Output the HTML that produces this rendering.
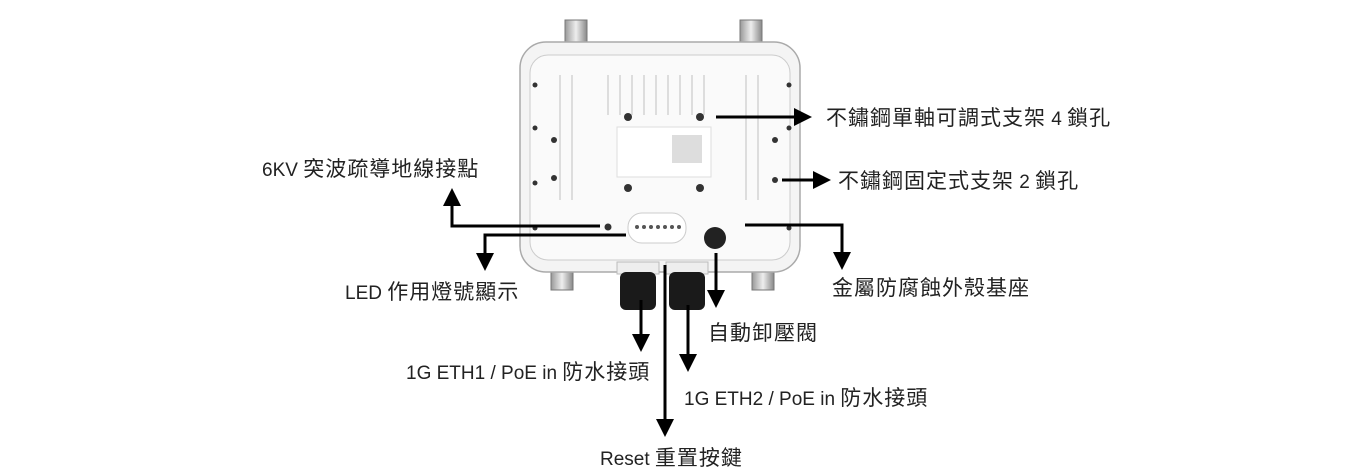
<!DOCTYPE html>
<html><head><meta charset="utf-8"><style>
html,body{margin:0;padding:0;background:#fff;}
svg{display:block;}
text{font-family:"Liberation Sans","Noto Sans CJK TC",sans-serif;font-size:21px;letter-spacing:1px;fill:#222;}
tspan.l{font-size:19px;letter-spacing:0;}
</style></head><body>
<svg width="1364" height="476" viewBox="0 0 1364 476" xmlns="http://www.w3.org/2000/svg">
<defs>
<marker id="a" markerWidth="6" markerHeight="6" refX="3" refY="3" orient="auto" markerUnits="strokeWidth">
<path d="M0,0 L6,3 L0,6 z" fill="#000"/></marker>
<linearGradient id="cn" x1="0" x2="1"><stop offset="0" stop-color="#999"/><stop offset=".5" stop-color="#eee"/><stop offset="1" stop-color="#888"/></linearGradient>
</defs>
<rect x="565" y="20" width="22" height="28" fill="url(#cn)" stroke="#777"/>
<rect x="740" y="20" width="22" height="28" fill="url(#cn)" stroke="#777"/>
<rect x="551" y="262" width="22" height="28" fill="url(#cn)" stroke="#777"/>
<rect x="752" y="262" width="22" height="28" fill="url(#cn)" stroke="#777"/>
<rect x="520" y="42" width="280" height="230" rx="26" fill="#f4f4f4" stroke="#aaa" stroke-width="1.5"/>
<rect x="530" y="55" width="260" height="205" rx="18" fill="#fafafa" stroke="#ccc"/>
<g stroke="#ddd" stroke-width="2">
<line x1="560" y1="75" x2="560" y2="200"/><line x1="572" y1="75" x2="572" y2="200"/>
<line x1="608" y1="75" x2="608" y2="115"/><line x1="620" y1="75" x2="620" y2="115"/>
<line x1="632" y1="75" x2="632" y2="115"/><line x1="644" y1="75" x2="644" y2="115"/>
<line x1="656" y1="75" x2="656" y2="115"/><line x1="668" y1="75" x2="668" y2="115"/>
<line x1="680" y1="75" x2="680" y2="115"/><line x1="692" y1="75" x2="692" y2="115"/>
<line x1="704" y1="75" x2="704" y2="115"/><line x1="746" y1="75" x2="746" y2="200"/><line x1="758" y1="75" x2="758" y2="200"/>
</g>
<rect x="617" y="127" width="94" height="50" fill="#fff" stroke="#ddd"/>
<rect x="672" y="135" width="30" height="28" fill="#ddd"/>
<g fill="#333">
<circle cx="628" cy="117" r="4"/><circle cx="700" cy="117" r="4"/>
<circle cx="628" cy="188" r="4"/><circle cx="700" cy="188" r="4"/>
<circle cx="554" cy="140" r="3"/><circle cx="554" cy="178" r="3"/>
<circle cx="775" cy="140" r="3"/><circle cx="775" cy="180" r="3"/>
<circle cx="535" cy="85" r="2.5"/><circle cx="535" cy="128" r="2.5"/><circle cx="535" cy="183" r="2.5"/><circle cx="535" cy="228" r="2.5"/>
<circle cx="789" cy="85" r="2.5"/><circle cx="789" cy="128" r="2.5"/><circle cx="789" cy="228" r="2.5"/>
<circle cx="608" cy="227" r="3.5"/>
</g>
<rect x="628" y="213" width="58" height="30" rx="14" fill="#fff" stroke="#ccc"/>
<g fill="#555"><circle cx="637" cy="227" r="2"/><circle cx="644" cy="227" r="2"/><circle cx="651" cy="227" r="2"/><circle cx="658" cy="227" r="2"/><circle cx="665" cy="227" r="2"/><circle cx="672" cy="227" r="2"/><circle cx="679" cy="227" r="2"/></g>
<circle cx="715" cy="238" r="11" fill="#222"/>
<rect x="617" y="262" width="42" height="12" fill="#eee" stroke="#bbb"/>
<rect x="666" y="262" width="42" height="12" fill="#eee" stroke="#bbb"/>
<rect x="620" y="272" width="36" height="38" rx="6" fill="#1a1a1a"/>
<rect x="669" y="272" width="36" height="38" rx="6" fill="#1a1a1a"/>
<g stroke="#000" stroke-width="3" fill="none" marker-end="url(#a)">
<polyline points="716,117 803,117"/>
<polyline points="782,180 822,180"/>
<polyline points="600,226 452,226 452,197"/>
<polyline points="626,235 485,235 485,262"/>
<polyline points="745,225 842,225 842,261"/>
<polyline points="716,253 716,299"/>
<polyline points="641,300 641,343"/>
<polyline points="688,305 688,363"/>
<polyline points="665,265 665,428"/>
</g>
<text x="826" y="125">不鏽鋼單軸可調式支架<tspan class="l"> 4 </tspan>鎖孔</text>
<text x="838" y="188">不鏽鋼固定式支架<tspan class="l"> 2 </tspan>鎖孔</text>
<text x="262" y="176"><tspan class="l">6KV </tspan>突波疏導地線接點</text>
<text x="345" y="299"><tspan class="l">LED </tspan>作用燈號顯示</text>
<text x="832" y="295">金屬防腐蝕外殼基座</text>
<text x="708" y="340">自動卸壓閥</text>
<text x="406" y="379"><tspan class="l">1G ETH1 / PoE in </tspan>防水接頭</text>
<text x="684" y="405"><tspan class="l">1G ETH2 / PoE in </tspan>防水接頭</text>
<text x="600" y="465"><tspan class="l">Reset </tspan>重置按鍵</text>
</svg>
</body></html>
